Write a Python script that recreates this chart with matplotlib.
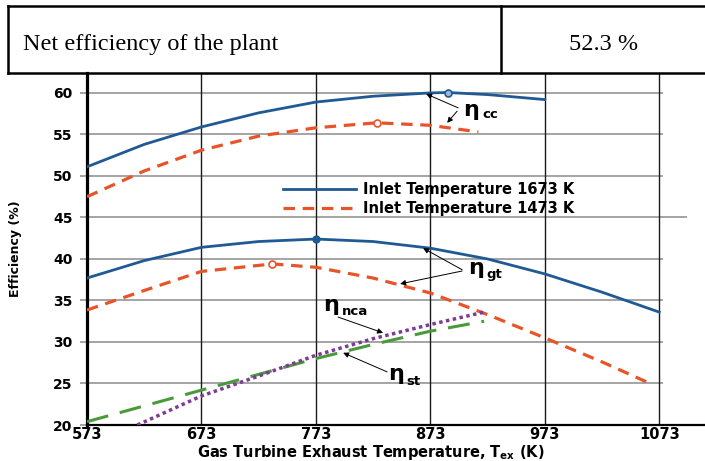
import matplotlib
matplotlib.use('Agg')
from matplotlib import pyplot as plt
from matplotlib.lines import Line2D

plt.rcParams['font.family'] = ['DejaVu Sans']
plt.rcParams['font.weight'] = 'bold'
plt.rcParams['axes.labelweight'] = 'bold'
plt.rcParams['mathtext.fontset'] = 'dejavusans'
plt.rcParams['mathtext.default'] = 'bf'

# table row above the chart
row_label = 'Net efficiency of the plant'
row_value = '52.3 %'

# combined cycle efficiency
t_cc_1673 = [573, 623, 673, 723, 773, 823, 873, 888, 923, 973]
cc_1673 = [51.1, 53.8, 55.9, 57.6, 58.9, 59.6, 60.0, 60.05, 59.8, 59.2]
t_cc_1473 = [573, 623, 673, 723, 773, 826, 873, 915]
cc_1473 = [47.5, 50.6, 53.1, 54.8, 55.8, 56.4, 56.1, 55.3]

# gas turbine efficiency
t_gt_1673 = [573, 623, 673, 723, 773, 823, 873, 923, 973, 1023, 1073]
gt_1673 = [37.7, 39.8, 41.4, 42.1, 42.4, 42.1, 41.3, 40.0, 38.2, 36.0, 33.6]
t_gt_1473 = [573, 623, 673, 735, 773, 823, 873, 923, 973, 1023, 1065]
gt_1473 = [33.85, 36.2, 38.5, 39.4, 39.0, 37.7, 35.9, 33.3, 30.5, 27.6, 25.0]

# steam turbine / nca efficiency
t_nca = [617, 673, 723, 773, 823, 873, 920]
nca = [20.0, 23.5, 25.9, 28.4, 30.4, 32.1, 33.6]
t_st = [573, 623, 673, 723, 773, 823, 873, 920]
st = [20.4, 22.3, 24.2, 26.1, 28.0, 29.7, 31.3, 32.5]

xticks = [573, 673, 773, 873, 973, 1073]
yticks = [20, 25, 30, 35, 40, 45, 50, 55, 60]
legend_labels = ['Inlet Temperature 1673 K', 'Inlet Temperature 1473 K']

blue = '#1f5a94'
orange = '#e8542a'
purple = '#7f3a98'
green = '#4a9a3c'

W, H = 705, 461
fig = plt.figure(figsize=(W / 100, H / 100), dpi=100)


def fx(px):
    return px / W


def fy(py):
    return 1 - py / H


# table row
for xs, ys in [([8, W], [6, 6]), ([8, W], [73, 73]), ([8, 8], [6, 73]), ([501, 501], [6, 73])]:
    fig.add_artist(Line2D([fx(x) for x in xs], [fy(y) for y in ys], color='black', lw=1.8))
fig.text(fx(23), fy(50), row_label, family='Liberation Serif', weight='normal',
         fontsize=17.5, va='baseline', ha='left')
fig.text(fx(604), fy(50), row_value, family='Liberation Serif', weight='normal',
         fontsize=17.5, va='baseline', ha='center')

ax = fig.add_axes([fx(87), 36 / H, (W - 87) / W, (425 - 73) / H])
ax.set_xlim(573, 1113)
ax.set_ylim(20, 62.4)

# grid
ax.hlines([y for y in yticks if y != 45], 573, 1076, color='#8c8c8c', lw=1.1, zorder=1)
ax.hlines([45], 573, 1097, color='#8c8c8c', lw=1.1, zorder=1)
ax.vlines(xticks[1:], 20, 62.4, color='#1a1a1a', lw=1.0, zorder=1)

for s in ['top', 'right']:
    ax.spines[s].set_visible(False)
ax.spines['left'].set_linewidth(2.3)
ax.spines['bottom'].set_linewidth(1.6)

ax.set_xticks(xticks)
ax.set_xticklabels([str(t) for t in xticks], fontsize=10.5)
ax.set_yticks(yticks)
ax.set_yticklabels([str(t) for t in yticks], fontsize=10)
ax.tick_params(axis='x', length=0, pad=1.5)
ax.tick_params(axis='y', length=5, width=1.1, color='#8c8c8c', pad=5.5)

# curves
ax.plot(t_cc_1673, cc_1673, color=blue, lw=2.0, marker='o', markevery=[7],
        ms=5, mfc='#9db8d6', mec=blue, mew=1.2, zorder=3)
ax.plot(t_cc_1473, cc_1473, color=orange, lw=2.3, dashes=(3.6, 2.4), marker='o',
        markevery=[5], ms=5, mfc='white', mec=orange, mew=1.2, zorder=3)
ax.plot(t_gt_1673, gt_1673, color=blue, lw=2.0, marker='o', markevery=[4],
        ms=5, mfc=blue, mec=blue, zorder=3)
ax.plot(t_gt_1473, gt_1473, color=orange, lw=2.3, dashes=(3.6, 2.4), marker='o',
        markevery=[3], ms=5, mfc='white', mec=orange, mew=1.2, zorder=3)
ax.plot(t_st, st, color=green, lw=2.2, dashes=(7.2, 3.9), zorder=3)
ax.plot(t_nca, nca, color=purple, lw=2.5, dashes=(1, 1), zorder=4)

leg_lines = [Line2D([], [], color=blue, lw=2.0),
             Line2D([], [], color=orange, lw=2.3, dashes=(3.6, 2.4))]
ax.legend(leg_lines, legend_labels, loc='upper left', bbox_to_anchor=((283 - 87) / 618, (425 - 182) / 352),
          frameon=False, fontsize=10.5, handlelength=5.0, handletextpad=0.5,
          labelspacing=0.25, borderpad=0, borderaxespad=0)

ax.set_xlabel('Gas Turbine Exhaust Temperature, T$_{ex}$ (K)', fontsize=10.5, va='baseline')
ax.xaxis.set_label_coords((371 - 87) / 618, (425 - 456.5) / 352)
ax.set_ylabel('Efficiency (%)', fontsize=9)
ax.yaxis.set_label_coords(-0.105, 0.5)

# labels with arrows
arrows = [((869.3, 59.88), (897.3, 58.2)),
          ((887.7, 56.4), (896.4, 57.8)),
          ((866.7, 41.3), (900.8, 38.7)),
          ((846.6, 37.0), (900.8, 38.55)),
          ((831.7, 31.1), (792.4, 33.0)),
          ((796.8, 28.7), (835.2, 26.4))]
for tip, tail in arrows:
    ax.annotate('', xy=tip, xytext=tail,
                arrowprops=dict(arrowstyle='-|>', color='black', lw=0.7, mutation_scale=8,
                                shrinkA=0, shrinkB=0), zorder=5)

etas = [((901.7, 57.2), (918.5, 57.0), 'cc'),
        ((906.0, 38.2), (922.0, 37.7), 'gt'),
        ((779.3, 33.7), (795.3, 33.25), 'nca'),
        ((836.1, 25.4), (852.0, 24.8), 'st')]
for (ex, ey), (sx, sy), sub in etas:
    ax.text(ex, ey, '\u03b7', fontsize=16, ha='left', va='baseline', zorder=6)
    ax.text(sx, sy, sub, fontsize=9.5, ha='left', va='baseline', zorder=6)

fig.savefig('out.png', dpi=100)
